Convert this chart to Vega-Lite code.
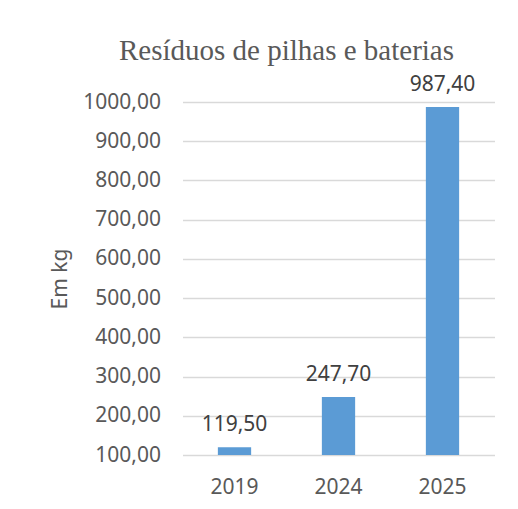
{
  "$schema": "https://vega.github.io/schema/vega-lite/v6.json",
  "autosize": "none",
  "padding": {"left": 182.5, "top": 102, "right": 23.5, "bottom": 54},
  "width": 312,
  "height": 353,
  "background": "white",
  "title": {
    "text": "Resíduos de pilhas e baterias",
    "font": "Liberation Serif",
    "fontSize": 29,
    "fontWeight": "normal",
    "color": "#595959",
    "anchor": "middle",
    "frame": "group",
    "baseline": "alphabetic",
    "offset": -15,
    "dx": -52
  },
  "data": {
    "values": [
      {"ano": "2019", "kg": 119.5},
      {"ano": "2024", "kg": 247.7},
      {"ano": "2025", "kg": 987.4}
    ]
  },
  "encoding": {
    "x": {
      "field": "ano",
      "type": "ordinal",
      "scale": {"paddingInner": 0.68, "paddingOuter": 0.34},
      "axis": {
        "title": null,
        "labelAngle": 0,
        "domain": false,
        "ticks": false,
        "labelPadding": 21,
        "labelFont": "Noto Sans",
        "labelFontSize": 21,
        "labelColor": "#595959"
      }
    },
    "y": {
      "field": "kg",
      "type": "quantitative",
      "scale": {"domain": [100, 1000], "nice": false, "zero": false},
      "axis": {
        "title": "Em kg",
        "titleFont": "Noto Sans",
        "titleFontSize": 21,
        "titleFontWeight": "normal",
        "titleColor": "#595959",
        "titlePadding": 12,
        "values": [100, 200, 300, 400, 500, 600, 700, 800, 900, 1000],
        "format": ".2f",
        "domain": false,
        "ticks": false,
        "labelPadding": 22,
        "labelFont": "Noto Sans",
        "labelFontSize": 21,
        "labelColor": "#595959",
        "grid": true,
        "gridColor": "#D9D9D9",
        "gridWidth": 1.5
      }
    }
  },
  "layer": [
    {
      "mark": {"type": "bar", "color": "#5B9BD5"},
      "encoding": {"y2": {"datum": 100}}
    },
    {
      "mark": {
        "type": "text",
        "baseline": "alphabetic",
        "dy": -16,
        "font": "Noto Sans",
        "fontSize": 21,
        "color": "#404040"
      },
      "encoding": {"text": {"field": "kg", "type": "quantitative", "format": ".2f"}}
    }
  ],
  "config": {
    "view": {"stroke": null},
    "locale": {
      "number": {"decimal": ",", "thousands": ".", "grouping": [9], "currency": ["", ""]}
    }
  }
}
